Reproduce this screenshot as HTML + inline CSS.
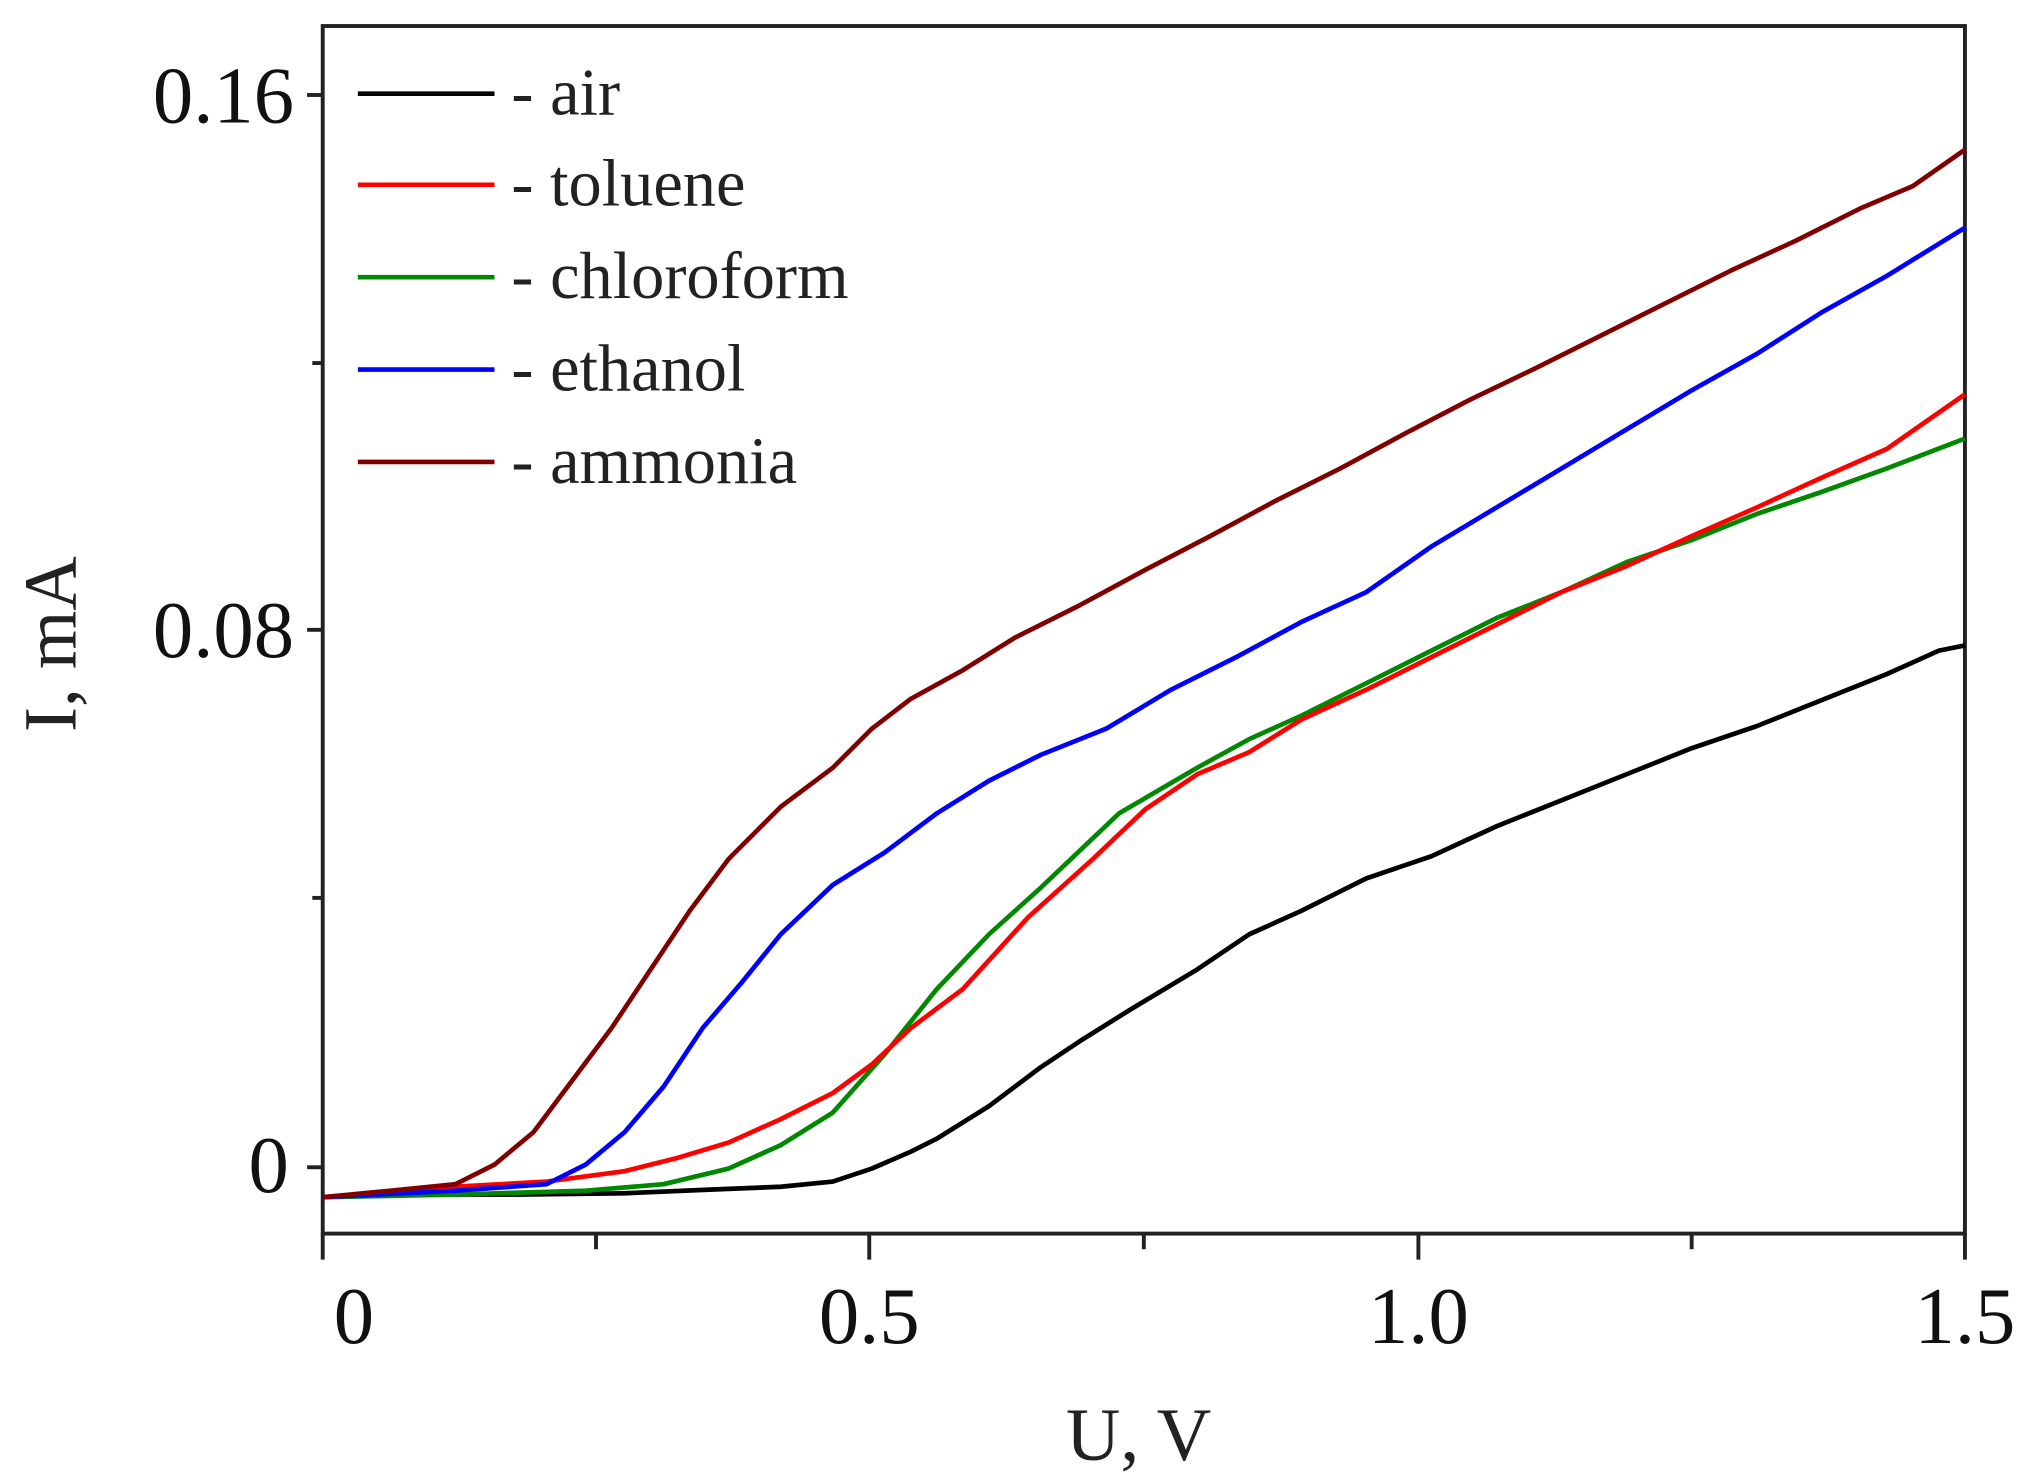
<!DOCTYPE html>
<html><head><meta charset="utf-8"><style>html,body{margin:0;padding:0;background:#fff}svg{display:block}</style></head>
<body>
<svg width="2030" height="1475" viewBox="0 0 1560 1133.5" xmlns="http://www.w3.org/2000/svg" font-family="'Liberation Serif', serif">
<rect width="1560" height="1134" fill="#fff"/>
<g stroke="#222" stroke-width="3" fill="none">
<rect x="248" y="20" width="1262" height="928"/>
<line x1="236" y1="73" x2="248" y2="73"/>
<line x1="240" y1="279" x2="248" y2="279"/>
<line x1="236" y1="484" x2="248" y2="484"/>
<line x1="240" y1="690" x2="248" y2="690"/>
<line x1="236" y1="897" x2="248" y2="897"/>
<line x1="248" y1="948" x2="248" y2="968"/>
<line x1="458" y1="948" x2="458" y2="960"/>
<line x1="668" y1="948" x2="668" y2="968"/>
<line x1="879" y1="948" x2="879" y2="960"/>
<line x1="1090" y1="948" x2="1090" y2="968"/>
<line x1="1300" y1="948" x2="1300" y2="960"/>
<line x1="1510" y1="948" x2="1510" y2="968"/>
</g>
<g font-size="62" fill="#111" text-anchor="end">
<text x="226" y="94">0.16</text>
<text x="226" y="505">0.08</text>
<text x="222" y="916">0</text>
</g>
<g font-size="62" fill="#111" text-anchor="middle">
<text x="272" y="1032">0</text>
<text x="668" y="1032">0.5</text>
<text x="1090" y="1032">1.0</text>
<text x="1510" y="1032">1.5</text>
</g>
<text x="875" y="1122" font-size="58" fill="#222" text-anchor="middle">U, V</text>
<text transform="translate(58,495) rotate(-90)" font-size="58" fill="#222" text-anchor="middle">I, mA</text>
<g stroke-width="3.5">
<line x1="275" y1="72" x2="380" y2="72" stroke="#000"/>
<line x1="275" y1="142" x2="380" y2="142" stroke="#f00"/>
<line x1="275" y1="213" x2="380" y2="213" stroke="#080"/>
<line x1="275" y1="284" x2="380" y2="284" stroke="#00f"/>
<line x1="275" y1="355" x2="380" y2="355" stroke="#800000"/>
</g>
<g font-size="51" fill="#222">
<text x="393" y="88">- air</text>
<text x="393" y="158">- toluene</text>
<text x="393" y="229">- chloroform</text>
<text x="393" y="300">- ethanol</text>
<text x="393" y="371">- ammonia</text>
</g>
<g fill="none" stroke-width="3.6" stroke-linejoin="round">
<polyline stroke="#000" points="248,920 300,918 400,918 480,917 550,914 600,912 640,908 670,898 700,885 720,875 760,850 800,820 830,800 870,775 920,745 960,718 1000,700 1050,675 1100,658 1150,635 1200,615 1250,595 1300,575 1350,558 1400,538 1450,518 1490,500 1510,496"/>
<polyline stroke="#080" points="248,920 350,918 450,915 510,910 560,898 600,880 640,855 680,810 720,760 760,718 800,682 860,625 920,590 960,568 1000,550 1050,525 1100,500 1150,475 1200,455 1250,432 1300,415 1350,395 1400,378 1450,360 1510,337"/>
<polyline stroke="#f00" points="248,920 350,912 420,908 480,900 520,890 560,878 600,860 640,840 670,818 700,790 740,760 790,705 840,660 880,622 920,595 960,578 1000,553 1050,530 1100,505 1150,480 1200,455 1250,435 1300,412 1350,390 1400,367 1450,345 1510,303"/>
<polyline stroke="#00f" points="248,920 350,915 420,910 450,895 480,870 510,835 540,790 570,755 600,718 640,680 680,655 720,625 760,600 800,580 850,560 900,530 950,505 1000,478 1050,455 1100,420 1150,390 1200,360 1250,330 1300,300 1350,272 1400,240 1450,212 1510,175"/>
<polyline stroke="#800000" points="248,920 300,915 350,910 380,895 410,870 440,830 470,790 500,745 530,700 560,660 600,620 640,590 670,560 700,537 740,515 780,490 830,465 880,438 930,412 980,385 1030,360 1080,333 1130,307 1180,283 1230,258 1280,233 1330,208 1380,185 1430,160 1470,143 1510,115"/>
</g>
</svg>
</body></html>
